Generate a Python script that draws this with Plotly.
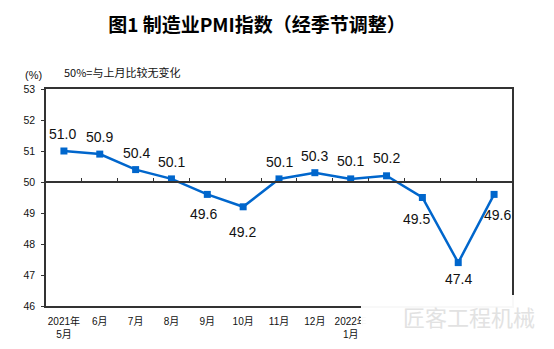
import plotly.graph_objects as go

# 制造业PMI（经季节调整），2021年5月—2022年5月
months = ["2021年<br>5月", "6月", "7月", "8月", "9月", "10月", "11月", "12月",
          "2022年<br>1月", "2月", "3月", "4月", "5月"]
pmi = [51.0, 50.9, 50.4, 50.1, 49.6, 49.2, 50.1, 50.3, 50.1, 50.2, 49.5, 47.4, 49.6]

# label offsets (px) relative to each marker
label_dy = [17, 17, 17, 17, -20, -25, 17, 17, 18, 18, -21, -16, -21]
label_dx = [-1, 0, 1, 0, -4, -1, 0, 0, 0, 0, -6, 0, 3]

# month labels hidden behind the corner badge
hidden_labels = {"2月", "3月", "4月", "5月"}
tick_text = ["" if m in hidden_labels else m for m in months]

Y_MIN, Y_MAX, Y_BASE = 46, 53, 50
LINE_BLUE = "#0066CC"
AXIS = "#333333"

W, H = 554, 349
M_L, M_R, M_T, M_B = 46, 42, 89, 43
PW, PH = W - M_L - M_R, H - M_T - M_B


def px_x(px):
    return (px - M_L) / PW


def px_y(py):
    return (H - M_B - py) / PH


fig = go.Figure()

fig.add_trace(go.Scatter(
    x=months, y=pmi, mode="lines+markers",
    line=dict(color=LINE_BLUE, width=2.5),
    marker=dict(symbol="square", size=7, color=LINE_BLUE),
    hoverinfo="x+y", showlegend=False,
))

# helper trace so the 50-line axis carries the same categories
fig.add_trace(go.Scatter(
    x=months, y=pmi, xaxis="x2", mode="lines",
    line=dict(width=0, color="rgba(0,0,0,0)"),
    hoverinfo="skip", showlegend=False,
))

# value labels
for m, v, dx, dy in zip(months, pmi, label_dx, label_dy):
    fig.add_annotation(
        x=m, y=v, xref="x", yref="y", text=f"{v:.1f}", showarrow=False,
        xshift=dx, yshift=dy,
        font=dict(family="Liberation Sans, Arial, sans-serif", size=14, color="#111111"),
    )

fig.update_layout(
    width=W, height=H,
    margin=dict(l=M_L, r=M_R, t=M_T, b=M_B),
    paper_bgcolor="white", plot_bgcolor="white",
    title=dict(
        text="<b>图1 制造业PMI指数（经季节调整）</b>",
        x=257 / W, xanchor="center", y=1 - 25 / H, yanchor="middle",
        font=dict(family="Noto Sans CJK SC, sans-serif", size=19, color="#000000"),
    ),
    xaxis=dict(
        type="category", categoryorder="array", categoryarray=months,
        tickmode="array", tickvals=months, ticktext=tick_text,
        range=[-0.5, len(months) - 0.5],
        showline=True, linecolor=AXIS, linewidth=1.5, mirror=True,
        ticks="", showgrid=False, zeroline=False, automargin=False,
        tickfont=dict(family="Liberation Sans, Noto Sans CJK SC, sans-serif", size=10, color="#111111"),
        ticklabelstandoff=5,
    ),
    xaxis2=dict(
        type="category", categoryorder="array", categoryarray=months,
        overlaying="x", anchor="free",
        position=(Y_BASE - Y_MIN) / (Y_MAX - Y_MIN),
        range=[-0.5, len(months) - 0.5],
        showline=True, linecolor=AXIS, linewidth=1.5,
        ticks="inside", tickson="boundaries", ticklen=3, tickcolor=AXIS, tickwidth=1,
        showticklabels=False, showgrid=False, zeroline=False, automargin=False,
    ),
    yaxis=dict(
        range=[Y_MIN, Y_MAX], dtick=1, tick0=Y_MIN,
        showline=True, linecolor=AXIS, linewidth=1.5, mirror=True,
        ticks="outside", ticklen=3, tickcolor=AXIS,
        showgrid=False, zeroline=False, automargin=False,
        tickfont=dict(family="Liberation Sans, Arial, sans-serif", size=10.5, color="#111111"),
        ticklabelstandoff=4,
    ),
)

fig.add_annotation(
    text="(%)", xref="paper", yref="paper", x=px_x(33), y=px_y(75),
    showarrow=False, xanchor="center", yanchor="middle",
    font=dict(family="Liberation Sans, Noto Sans CJK SC, sans-serif", size=11, color="#111111"),
)
fig.add_annotation(
    text="50%=与上月比较无变化", xref="paper", yref="paper", x=px_x(122), y=px_y(72),
    showarrow=False, xanchor="center", yanchor="middle",
    font=dict(family="Noto Sans CJK SC, sans-serif", size=11, color="#111111"),
)

# watermark badge in the lower right corner
fig.add_shape(
    type="rect", xref="paper", yref="paper", layer="above",
    x0=px_x(361), x1=px_x(544), y0=px_y(337), y1=px_y(295),
    fillcolor="rgba(255,255,255,0.97)", line=dict(width=0),
)
fig.add_annotation(
    text="匠客工程机械", xref="paper", yref="paper", x=px_x(469), y=px_y(316),
    showarrow=False, xanchor="center", yanchor="middle",
    font=dict(family="Noto Sans CJK SC, sans-serif", size=22, color="#e2e2e2"),
)

fig.write_html("out.html")
